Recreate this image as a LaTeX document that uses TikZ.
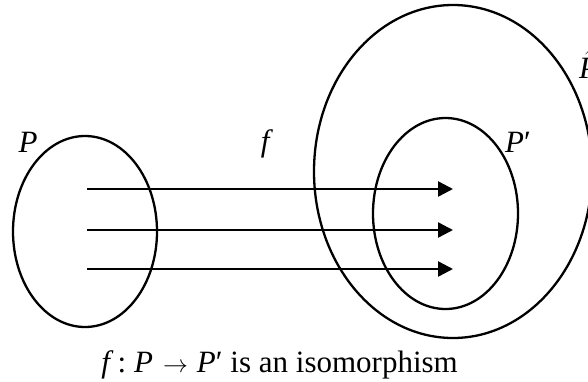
\documentclass[tikz,border=0pt]{standalone}
\usepackage{fontspec}
\setmainfont{Liberation Serif}
\usetikzlibrary{arrows.meta,shapes.geometric}
\begin{document}
\begin{tikzpicture}[x=1pt,y=-1pt,
  setshape/.style={draw=black,line width=2.3pt,ellipse,inner sep=0pt},
  maparrow/.style={line width=2.4pt,-{Triangle[length=15pt,width=15pt]}},
  lbl/.style={inner sep=0pt,anchor=base,font=\fontsize{31}{36}\selectfont}]
\useasboundingbox (0,0) rectangle (588,381);
% sets
\node[setshape,minimum width=144pt,minimum height=191pt] (P) at (85,231.5) {};
\node[setshape,minimum width=278pt,minimum height=333pt] (Phat) at (453,171.5) {};
\node[setshape,minimum width=145pt,minimum height=191pt] (Pp) at (445.5,213.5) {};
% arrows
\coordinate (s1) at (87,189); \coordinate (e1) at (453,189);
\coordinate (s2) at (87,230); \coordinate (e2) at (453,230);
\coordinate (s3) at (87,269); \coordinate (e3) at (453,269);
\draw[maparrow] (s1) -- (e1);
\draw[maparrow] (s2) -- (e2);
\draw[maparrow] (s3) -- (e3);
% labels
\node[lbl] (lP) at (28,152) {\textit{P}};
\node[lbl] (lf) at (267,151) {\textit{f}};
\node[lbl] (lPp) at (518,152) {\textit{P}′};
\node[lbl,anchor=base west] (lPhat) at (579,78) {$\hat{\mbox{\textit{P}}}$};
\node[lbl,anchor=base east] (cap) at (458,372) {\textit{f}\hspace{4pt}:\hspace{8pt}\textit{P}\hspace{10pt}$\rightarrow$\hspace{9pt}\textit{P}′ is an isomorphism};
\end{tikzpicture}
\end{document}
